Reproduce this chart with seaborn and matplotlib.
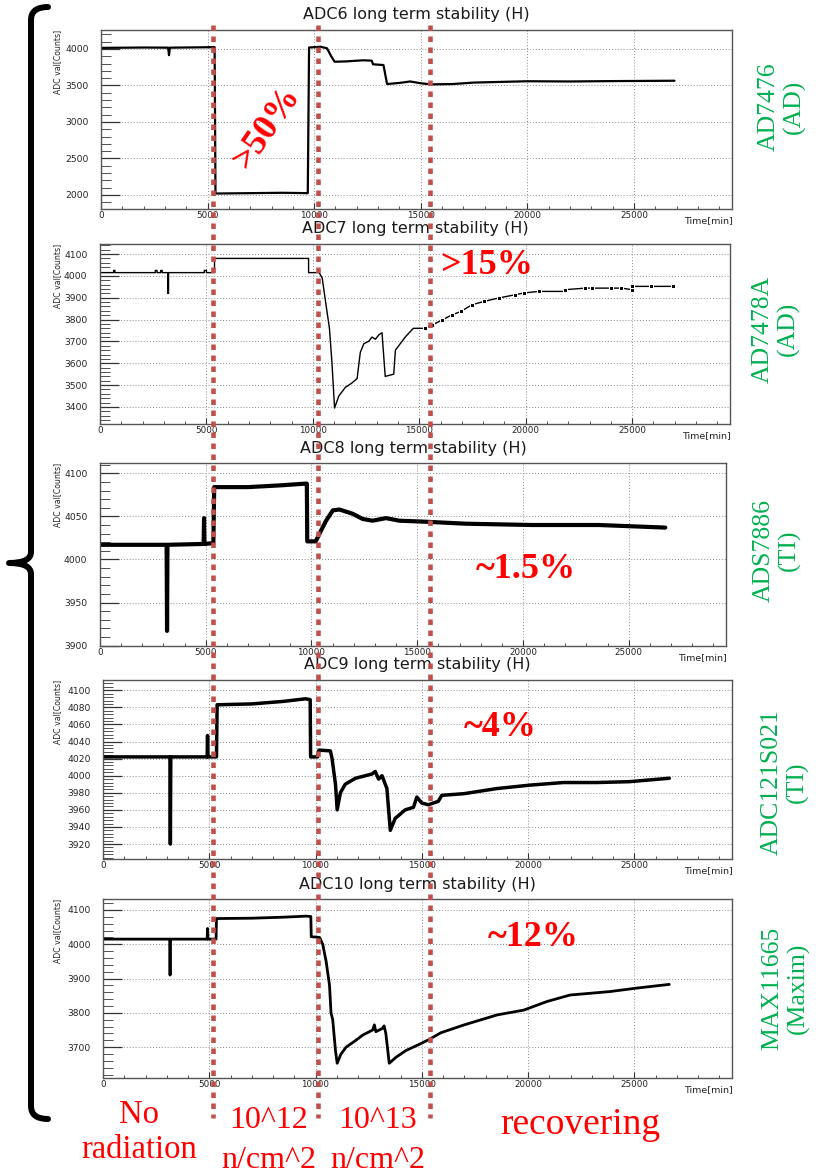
import matplotlib
matplotlib.use("Agg")
import matplotlib.pyplot as plt
import seaborn as sns
from matplotlib.path import Path
from matplotlib.patches import PathPatch
from matplotlib.ticker import FixedLocator, MultipleLocator
from matplotlib import font_manager

# ---------------------------------------------------------------- data
# time in minutes, ADC reading in counts
t_adc6 = [0, 2000, 3150, 3190, 3230, 4500, 5330, 5370, 7000, 8500, 9700, 9760,
          10300, 10600, 10800, 10960, 11500, 12300, 12700, 12760, 13250, 13420,
          14000, 14500, 15000, 15500, 16500, 17500, 20000, 22000, 24000, 26900]
v_adc6 = [4015, 4020, 4018, 3915, 4018, 4022, 4025, 2020, 2025, 2030, 2025, 4020,
          4030, 4010, 3900, 3825, 3830, 3845, 3840, 3790, 3780, 3520,
          3535, 3555, 3530, 3515, 3520, 3540, 3558, 3555, 3560, 3565]

t_adc7 = [0, 640, 640, 700, 700, 2600, 2600, 2680, 2680, 2850, 2850, 2920, 2920,
          3180, 3180, 3220, 3220, 4900, 4900, 5000, 5000, 5380, 5380, 9800, 9800,
          10300, 10440, 10600, 10780, 10900, 11020, 11220, 11530, 11840, 12080,
          12230, 12400, 12620, 12780, 12940, 13100, 13250, 13400, 13800, 13880,
          14340, 14720, 15270, 15620, 16090, 16550, 16950, 17480, 18040, 18740,
          19520, 19920, 20620, 21870, 21870, 22800, 23100, 24000, 24500, 25000,
          25000, 25900, 26900]
v_adc7 = [4015, 4015, 4025, 4025, 4015, 4015, 4025, 4025, 4015, 4015, 4025, 4025, 4015,
          4015, 3920, 3920, 4015, 4015, 4025, 4025, 4015, 4015, 4080, 4080, 4015,
          4015, 3990, 3880, 3760, 3600, 3395, 3450, 3490, 3510, 3530,
          3650, 3690, 3700, 3720, 3710, 3730, 3740, 3540, 3550, 3660,
          3720, 3760, 3760, 3776, 3799, 3822, 3837, 3868, 3883, 3899,
          3914, 3922, 3929, 3929, 3937, 3944, 3944, 3944, 3944, 3937,
          3952, 3952, 3952]

t_adc8 = [0, 3150, 3170, 3190, 4900, 4920, 4940, 5360, 5400, 7000, 8500, 9700,
          9780, 9800, 10200, 10380, 10690, 11010, 11320, 11950, 12420, 12890,
          13520, 14150, 15220, 17300, 20430, 23580, 26730]
v_adc8 = [4017, 4017, 3917, 4017, 4018, 4048, 4018, 4019, 4084, 4084, 4086, 4088,
          4088, 4021, 4021, 4030, 4045, 4057, 4058, 4053, 4047, 4045,
          4048, 4045, 4044, 4041.5, 4040, 4040, 4037]

t_adc9 = [0, 3150, 3170, 3190, 4900, 4920, 4940, 5340, 5370, 7000, 8500, 9530,
          9750, 9770, 10100, 10160, 10700, 10780, 10940, 11020, 11170, 11400,
          11880, 12660, 12810, 12970, 13130, 13360, 13520, 13750, 14220, 14610,
          14770, 15000, 15310, 15780, 15940, 17000, 18550, 20110, 21670, 23230,
          24770, 26650]
v_adc9 = [4022, 4022, 3920, 4022, 4022, 4047, 4022, 4022, 4083, 4084, 4087, 4090,
          4089, 4022, 4022, 4030, 4029, 4020, 3990, 3960, 3980, 3990,
          3997, 4002, 4005, 3996, 4000, 3985, 3936, 3950, 3960, 3963,
          3975, 3968, 3966, 3970, 3977, 3979, 3985, 3989, 3992, 3992,
          3993, 3997]

t_adc10 = [0, 3140, 3156, 3172, 4900, 4920, 4940, 5320, 5340, 7000, 8500, 9560,
           9780, 9800, 10190, 10340, 10500, 10660, 10730, 10810, 10940, 11020,
           11200, 11440, 11900, 12220, 12690, 12770, 12840, 13160, 13230, 13310,
           13470, 13780, 14250, 14810, 15340, 15900, 17000, 18550, 19800, 20890,
           21980, 23850, 25090, 26650]
v_adc10 = [4015, 4015, 3910, 4015, 4015, 4046, 4015, 4015, 4075, 4076, 4079, 4082,
           4081, 4022, 4020, 4000, 3950, 3880, 3800, 3780, 3690, 3653,
           3680, 3700, 3720, 3735, 3750, 3765, 3745, 3755, 3762, 3740,
           3653, 3670, 3690, 3706, 3722, 3742, 3765, 3794, 3808, 3833,
           3852, 3862, 3872, 3883]

x_ticks = [0, 5000, 10000, 15000, 20000, 25000]
x_tick_labels = ["0", "5000", "10000", "15000", "20000", "25000"]
y_ticks_adc6 = [2000, 2500, 3000, 3500, 4000]
y_ticks_adc7 = [3400, 3500, 3600, 3700, 3800, 3900, 4000, 4100]
y_ticks_adc8 = [3900, 3950, 4000, 4050, 4100]
y_ticks_adc9 = [3920, 3940, 3960, 3980, 4000, 4020, 4040, 4060, 4080, 4100]
y_ticks_adc10 = [3700, 3800, 3900, 4000, 4100]

titles = ["ADC6 long term stability (H)", "ADC7 long term stability (H)",
          "ADC8 long term stability (H)", "ADC9 long term stability (H)",
          "ADC10 long term stability (H)"]
chips = ["AD7476\n(AD)", "AD7478A\n(AD)", "ADS7886\n(TI)",
         "ADC121S021\n(TI)", "MAX11665\n(Maxim)"]
drift_labels = [">50%", ">15%", "~1.5%", "~4%", "~12%"]

# phase boundaries (minutes) and phase names
phase_edges = [5254, 10180, 15410]
phase_names = ["No\nradiation", "10^12\nn/cm^2", "10^13\nn/cm^2", "recovering"]

# ---------------------------------------------------------------- style
sns.set_style("white")
plt.rcParams["font.family"] = ["DejaVu Sans"]
installed = {f.name for f in font_manager.fontManager.ttflist}
narrow = "Liberation Sans Narrow" if "Liberation Sans Narrow" in installed else "DejaVu Sans"
SERIF = "Liberation Serif"
GREEN = "#00B050"
RED = "#FF0000"
DOT_RED = "#C0504D"

W, H = 817, 1175
fig = plt.figure(figsize=(W / 100, H / 100), dpi=100)
fig.patch.set_facecolor("white")

# panel boxes in pixels: left, top, right, bottom
boxes = [(101, 30, 732, 209), (100, 244, 730, 424), (100, 463, 726, 646),
         (103, 680, 732, 859), (103, 899, 732, 1078)]
ylims = [(1808, 4260), (3322, 4146), (3899.5, 4112), (3902.5, 4112), (3610, 4132)]
yminor = [100, 20, 10, 4, 20]
widths = [1.6, 1.0, 3.0, 2.5, 2.0]
series = [(t_adc6, v_adc6), (t_adc7, v_adc7), (t_adc8, v_adc8),
          (t_adc9, v_adc9), (t_adc10, v_adc10)]
yticks = [y_ticks_adc6, y_ticks_adc7, y_ticks_adc8, y_ticks_adc9, y_ticks_adc10]
chip_pos = [(782, 107), (776, 329), (777, 550), (785, 782), (786, 988)]
drift_pos = [(267, 128, 55), (487, 266, 0), (526, 570, 0), (500, 727, 0), (533, 938, 0)]

axes = []
for i, (l, t, r, b) in enumerate(boxes):
    ax = fig.add_axes([l / W, 1 - b / H, (r - l) / W, (b - t) / H])
    tt, vv = series[i]
    kw = {}
    if i == 1:
        kw = dict(marker="s", markersize=2.6,
                  markevery=[k for k, x in enumerate(tt) if x > 15000])
    sns.lineplot(x=tt, y=vv, ax=ax, color="black", linewidth=widths[i],
                 sort=False, estimator=None, **kw)
    ax.set_xlim(0, 29600)
    ax.set_ylim(*ylims[i])
    ax.xaxis.set_major_locator(FixedLocator(x_ticks))
    ax.set_xticklabels(x_tick_labels)
    ax.xaxis.set_minor_locator(MultipleLocator(1000))
    ax.yaxis.set_major_locator(FixedLocator(yticks[i]))
    ax.set_yticklabels([str(v) for v in yticks[i]])
    ax.yaxis.set_minor_locator(MultipleLocator(yminor[i]))
    ax.tick_params(axis="y", which="major", direction="in", length=13.5, width=0.9,
                   color="#333333", pad=9, labelsize=6.6, labelcolor="#222222", left=True)
    ax.tick_params(axis="y", which="minor", direction="in", length=7, width=0.6,
                   color="#333333", left=True)
    ax.tick_params(axis="x", which="major", direction="in", length=4.5, width=0.8,
                   color="#333333", pad=1.5, labelsize=6.3, labelcolor="#222222", bottom=True)
    ax.tick_params(axis="x", which="minor", direction="in", length=2.3, width=0.6,
                   color="#333333", bottom=True)
    ax.grid(True, which="major", linestyle=(0, (1, 2)), color="#8a8a8a", linewidth=0.7)
    ax.set_axisbelow(True)
    for s in ax.spines.values():
        s.set_color("#555555")
        s.set_linewidth(1.0)
        s.set_visible(True)
    ax.set_xlabel("")
    ax.set_ylabel("")
    axes.append(ax)

# overlay in pixel coordinates for annotations
ov = fig.add_axes([0, 0, 1, 1], zorder=10)
ov.set_xlim(0, W)
ov.set_ylim(H, 0)
ov.axis("off")
ov.patch.set_alpha(0)

for i, (l, t, r, b) in enumerate(boxes):
    ov.text((l + r) / 2, t - 15, titles[i], ha="center", va="center",
            fontsize=11.5, color="#1a1a1a", family="DejaVu Sans")
    ov.text(58, t, "ADC val[Counts]", rotation=90, ha="center", va="top",
            fontsize=5.6, color="#222222", family=narrow)
    ov.text(r + 1, b + 12, "Time[min]", ha="right", va="center",
            fontsize=6.8, color="#222222", family="DejaVu Sans")
    cx, cy = chip_pos[i]
    ov.text(cx, cy, chips[i], rotation=90, ha="center", va="center",
            multialignment="center", fontsize=18.5, color=GREEN, family=SERIF)
    dx, dy, rot = drift_pos[i]
    ov.text(dx, dy, drift_labels[i], rotation=rot, ha="center", va="center",
            rotation_mode="anchor", fontsize=26, fontweight="bold", color=RED,
            family=SERIF)

# phase boundaries, mapped from the top panel's time axis
inv = ov.transData.inverted()
for edge in phase_edges:
    xd = axes[0].transData.transform((edge, 0))[0]
    xp = inv.transform((xd, 0))[0]
    ov.plot([xp, xp], [25, 1118], color=DOT_RED, linewidth=3.3,
            linestyle=(0, (1.2, 1.2)), dash_capstyle="butt", zorder=5)

# phase names under the panels
ov.text(139, 1132, phase_names[0], ha="center", va="center", multialignment="center",
        fontsize=23.5, color=RED, family=SERIF, linespacing=1.2)
ov.text(269, 1140, phase_names[1], ha="center", va="center", multialignment="center",
        fontsize=23, color=RED, family=SERIF, linespacing=1.5)
ov.text(378, 1140, phase_names[2], ha="center", va="center", multialignment="center",
        fontsize=23, color=RED, family=SERIF, linespacing=1.5)
ov.text(580, 1125, phase_names[3], ha="center", va="center",
        fontsize=27, color=RED, family=SERIF)

# grouping brace on the left
verts = [(48, 7), (31, 7), (31, 20), (31, 552), (31, 563), (9, 563),
         (31, 563), (31, 574), (31, 1106), (31, 1119), (48, 1119)]
codes = [Path.MOVETO, Path.CURVE3, Path.CURVE3, Path.LINETO, Path.CURVE3, Path.CURVE3,
         Path.CURVE3, Path.CURVE3, Path.LINETO, Path.CURVE3, Path.CURVE3]
ov.add_patch(PathPatch(Path(verts, codes), facecolor="none", edgecolor="black",
                       linewidth=4.3, capstyle="round", joinstyle="round"))

fig.savefig("out.png", dpi=100, facecolor="white")
